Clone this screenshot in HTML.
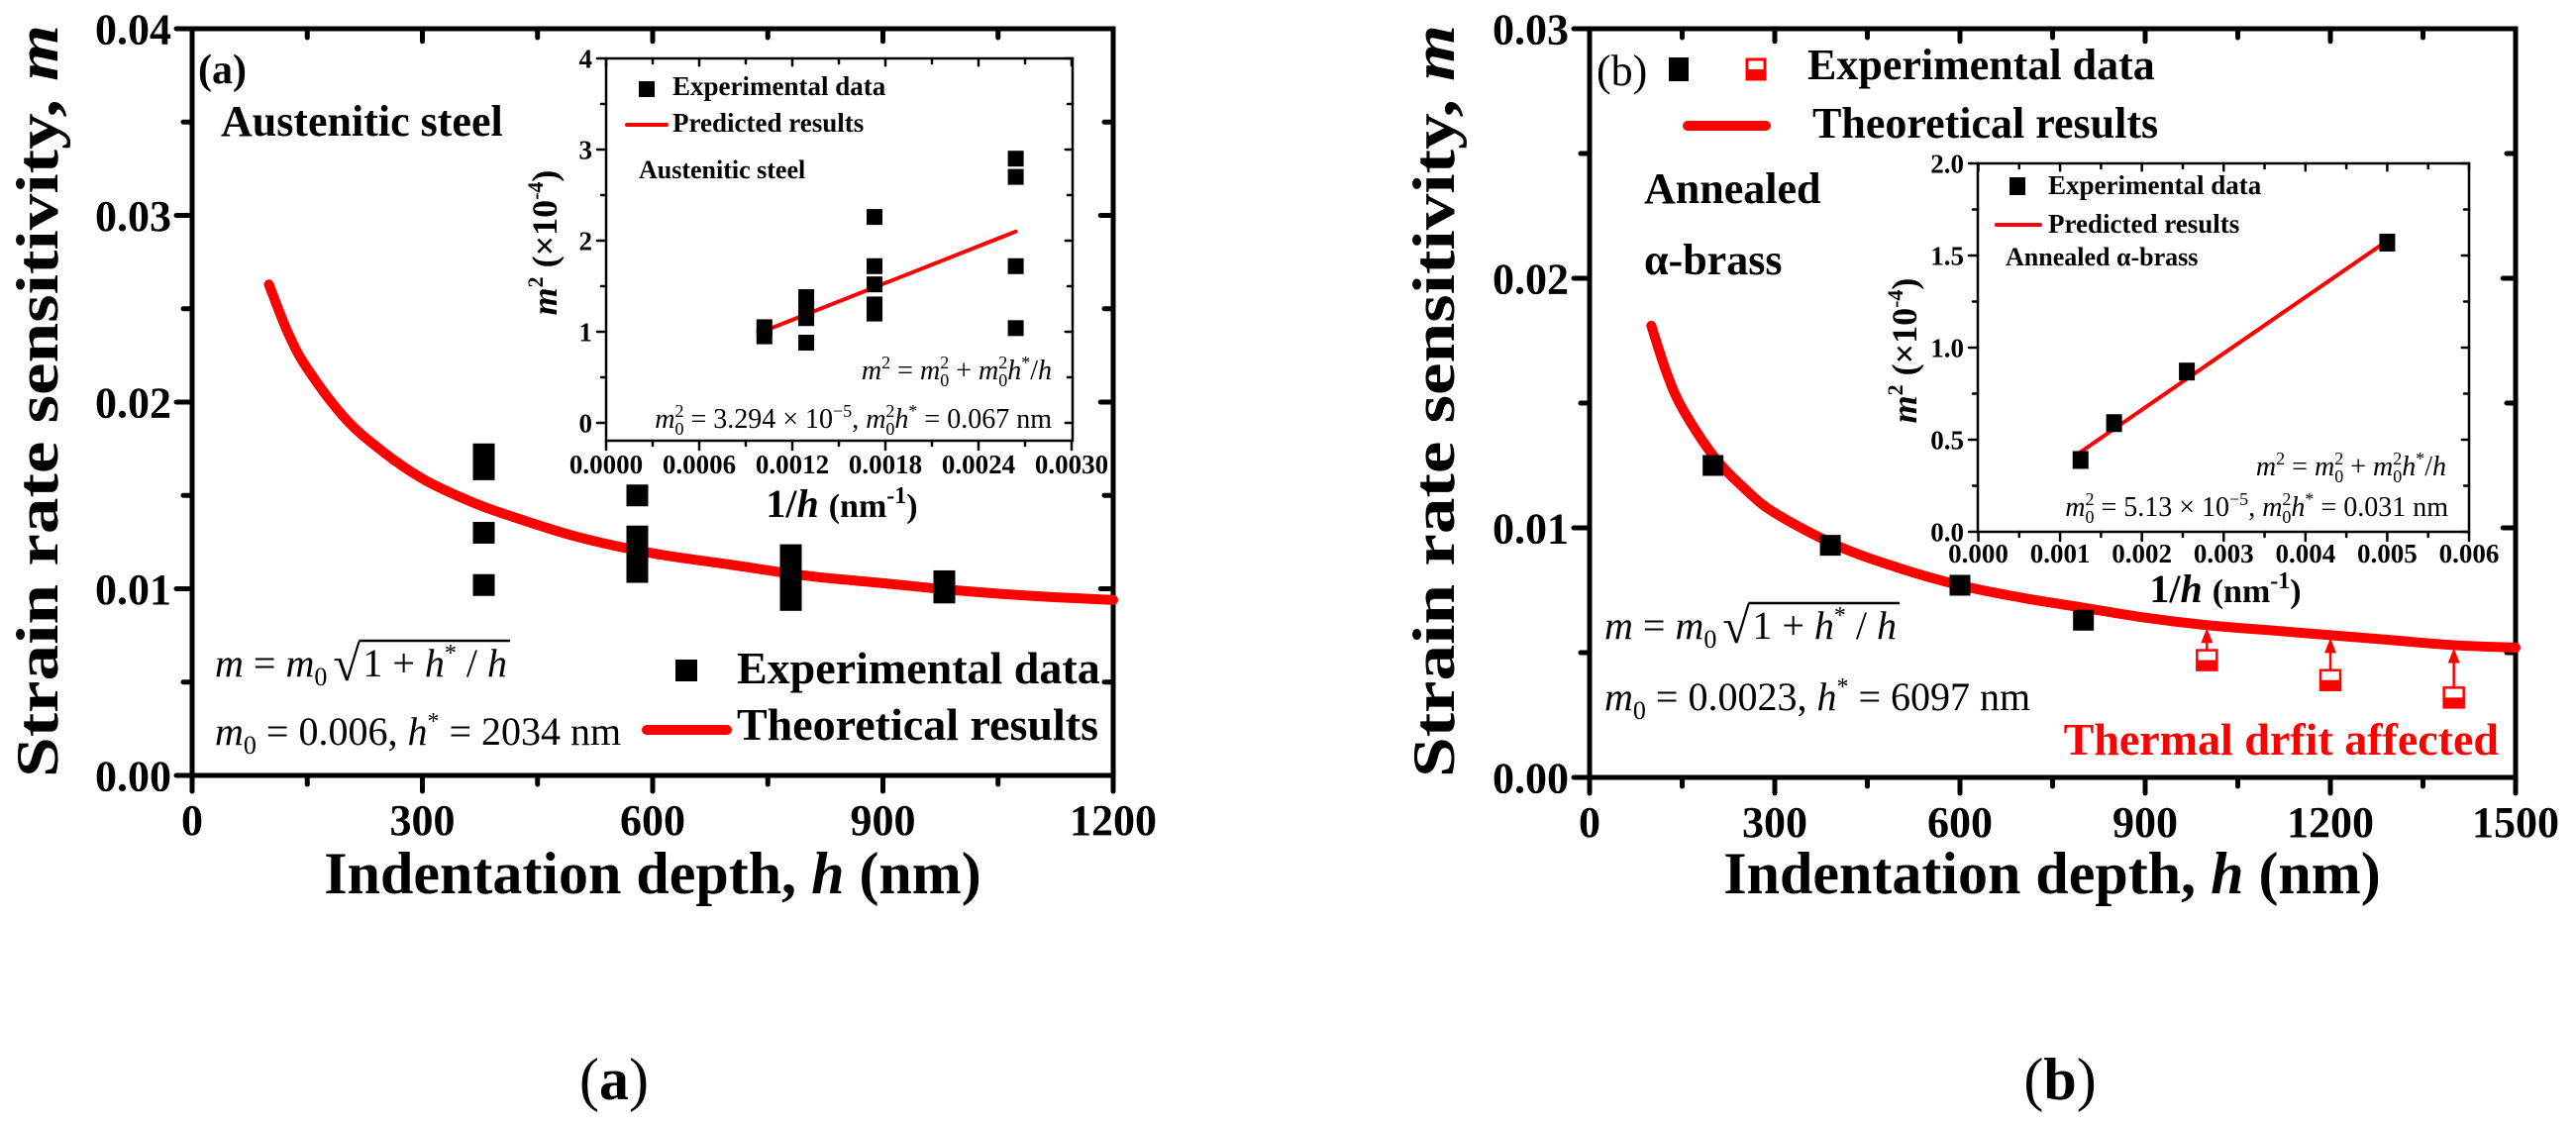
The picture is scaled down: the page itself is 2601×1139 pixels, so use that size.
<!DOCTYPE html>
<html><head><meta charset="utf-8">
<style>
html,body{margin:0;padding:0;background:#fff;}
svg, svg text{font-family:"Liberation Serif","DejaVu Serif",serif;}
svg{display:block;}
.b{font-weight:bold;}
</style></head>
<body>
<svg id="fig" width="2601" height="1139" viewBox="0 0 2601 1139" xmlns="http://www.w3.org/2000/svg" font-family="Liberation Serif, serif">
<rect x="0" y="0" width="2601" height="1139" fill="#fff"/>
<g id="layer"></g>

<!-- ===== Panel (a) static text ===== -->
<text class="b" font-size="60" transform="translate(58,405) rotate(-90)" text-anchor="middle" textLength="760" lengthAdjust="spacingAndGlyphs">Strain rate sensitivity, <tspan font-style="italic">m</tspan></text>
<text class="b" font-size="60" x="659" y="902" text-anchor="middle">Indentation depth, <tspan font-style="italic">h</tspan> (nm)</text>
<text class="b" font-size="42" x="200" y="84">(a)</text>
<text class="b" font-size="44" x="223" y="137">Austenitic steel</text>
<text font-size="40" x="217" y="752"><tspan font-style="italic">m</tspan><tspan font-size="26" dy="9">0</tspan><tspan dy="-9"> = 0.006, </tspan><tspan font-style="italic">h</tspan><tspan font-size="24" dy="-16">*</tspan><tspan dy="16"> = 2034 nm</tspan></text>
<g>
<rect x="682" y="666" width="22" height="22" fill="#000"/>
<text class="b" font-size="46" x="744" y="690">Experimental data</text>
<line x1="653" y1="737" x2="734" y2="737" stroke="#ff0000" stroke-width="10" stroke-linecap="round"/>
<text class="b" font-size="46" x="744" y="747">Theoretical results</text>
</g>
<text font-size="60" x="620" y="1110" text-anchor="middle">(<tspan class="b">a</tspan>)</text>

<!-- ===== Panel (b) static text ===== -->
<text class="b" font-size="60" transform="translate(1468,405) rotate(-90)" text-anchor="middle" textLength="760" lengthAdjust="spacingAndGlyphs">Strain rate sensitivity, <tspan font-style="italic">m</tspan></text>
<text class="b" font-size="60" x="2072" y="902" text-anchor="middle">Indentation depth, <tspan font-style="italic">h</tspan> (nm)</text>
<text font-size="44" x="1612" y="86">(b)</text>
<g>
<rect x="1685" y="58" width="20" height="24" fill="#000"/>
<rect x="1764" y="60" width="18" height="20" fill="#fff" stroke="#ff0000" stroke-width="3"/>
<rect x="1764" y="70" width="18" height="10" fill="#ff0000"/>
<text class="b" font-size="44" x="1825" y="80">Experimental data</text>
<line x1="1704" y1="127" x2="1783" y2="127" stroke="#ff0000" stroke-width="10" stroke-linecap="round"/>
<text class="b" font-size="44" x="1830" y="139">Theoretical results</text>
</g>
<text class="b" font-size="44" x="1660" y="205">Annealed</text>
<text class="b" font-size="44" x="1660" y="277">α-brass</text>
<text font-size="40" x="1620" y="717"><tspan font-style="italic">m</tspan><tspan font-size="26" dy="9">0</tspan><tspan dy="-9"> = 0.0023, </tspan><tspan font-style="italic">h</tspan><tspan font-size="24" dy="-16">*</tspan><tspan dy="16"> = 6097 nm</tspan></text>
<text class="b" font-size="46" fill="#ff0000" x="2523" y="762" text-anchor="end">Thermal drfit affected</text>
<text font-size="60" x="2080" y="1110" text-anchor="middle">(<tspan class="b">b</tspan>)</text>
<g id="eqlayer"></g>
</svg>

<script>
// ---------- Panel (a) main data ----------
const hAexp = [380, 380, 380, 380, 580, 580, 580, 580, 580, 780, 780, 780, 780, 980, 980];
const mAexp = [0.0172, 0.0164, 0.0130, 0.0102, 0.0150, 0.0128, 0.0121, 0.0114, 0.0109, 0.0118, 0.0112, 0.0105, 0.0094, 0.0104, 0.0098];
const hAcurve = [100, 125, 150, 200, 250, 300, 350, 400, 500, 600, 700, 800, 900, 1000, 1100, 1200];
const mAcurve = [0.0263, 0.0237, 0.0218, 0.0191, 0.0173, 0.0159, 0.0149, 0.0141, 0.0128, 0.0119, 0.0113, 0.0107, 0.0103, 0.0099, 0.0096, 0.0094];
const xTicksA = [0, 300, 600, 900, 1200];
const yTicksA = [0, 0.01, 0.02, 0.03, 0.04];
const yTickLabelsA = ["0.00", "0.01", "0.02", "0.03", "0.04"];

// ---------- Panel (a) inset data ----------
const invHA = [0.00102, 0.00102, 0.00129, 0.00129, 0.00129, 0.00129, 0.00173, 0.00173, 0.00173, 0.00173, 0.00173, 0.00264, 0.00264, 0.00264, 0.00264];
const m2A = [1.05, 0.95, 1.38, 1.25, 1.15, 0.88, 2.26, 1.72, 1.52, 1.30, 1.20, 2.90, 2.70, 1.72, 1.04];
const fitXA = [0.00102, 0.00264];
const fitYA = [1.01, 2.10];
const insetXTicksA = [0, 0.0006, 0.0012, 0.0018, 0.0024, 0.0030];
const insetXLabelsA = ["0.0000", "0.0006", "0.0012", "0.0018", "0.0024", "0.0030"];
const insetYTicksA = [0, 1, 2, 3, 4];

// ---------- Panel (b) main data ----------
const hB = [200, 390, 600, 800];
const mB = [0.0125, 0.0093, 0.0077, 0.0063];
const hDrift = [1000, 1200, 1400];
const mDrift = [0.0047, 0.0039, 0.0032];
const hBcurve = [100, 125, 150, 200, 250, 300, 400, 500, 600, 700, 800, 900, 1000, 1100, 1200, 1300, 1400, 1500];
const mBcurve = [0.0181, 0.0162, 0.0148, 0.0129, 0.0116, 0.0106, 0.0093, 0.0084, 0.0077, 0.0072, 0.0068, 0.0064, 0.0061, 0.0059, 0.0057, 0.0055, 0.0053, 0.0052];
const xTicksB = [0, 300, 600, 900, 1200, 1500];
const yTicksB = [0, 0.01, 0.02, 0.03];
const yTickLabelsB = ["0.00", "0.01", "0.02", "0.03"];

// ---------- Panel (b) inset data ----------
const invHB = [0.00125, 0.00166, 0.00255, 0.00500];
const m2B = [0.39, 0.59, 0.87, 1.57];
const fitXB = [0.00124, 0.00500];
const fitYB = [0.43, 1.58];
const insetXTicksB = [0, 0.001, 0.002, 0.003, 0.004, 0.005, 0.006];
const insetXLabelsB = ["0.000", "0.001", "0.002", "0.003", "0.004", "0.005", "0.006"];
const insetYTicksB = [0, 0.5, 1.0, 1.5, 2.0];
const insetYLabelsB = ["0.0", "0.5", "1.0", "1.5", "2.0"];

const NS = "http://www.w3.org/2000/svg";
const layer = document.getElementById("layer");
const eqlayer = document.getElementById("eqlayer");
function mk(tag, parent) { const e = document.createElementNS(NS, tag); (parent || layer).appendChild(e); return e; }
function lin(d0, d1, r0, r1) { return v => r0 + (v - d0) * (r1 - r0) / (d1 - d0); }

const XA = lin(0, 1200, 194, 1124), YA = lin(0, 0.04, 783, 29);
const XB = lin(0, 1500, 1605, 2540), YB = lin(0, 0.03, 785, 29);
const XIA = lin(0, 0.003, 612, 1082), YIA = lin(0, 4, 427, 59);
const XIB = lin(0, 0.006, 1997.5, 2493), YIB = lin(0, 2, 537, 165);

function smoothPath(xs, ys, X, Y) {
  const p = xs.map((x, i) => [X(x), Y(ys[i])]);
  let d = "M" + p[0][0] + "," + p[0][1];
  for (let i = 0; i < p.length - 1; i++) {
    const p0 = p[i - 1] || p[i], p1 = p[i], p2 = p[i + 1], p3 = p[i + 2] || p2;
    const c1 = [p1[0] + (p2[0] - p0[0]) / 6, p1[1] + (p2[1] - p0[1]) / 6];
    const c2 = [p2[0] - (p3[0] - p1[0]) / 6, p2[1] - (p3[1] - p1[1]) / 6];
    d += " C" + c1[0] + "," + c1[1] + " " + c2[0] + "," + c2[1] + " " + p2[0] + "," + p2[1];
  }
  return d;
}

function frame(x0, y0, x1, y1, sw, name) {
  const r = mk("rect");
  r.setAttribute("x", x0); r.setAttribute("y", y0);
  r.setAttribute("width", x1 - x0); r.setAttribute("height", y1 - y0);
  r.setAttribute("fill", "#fff"); r.setAttribute("stroke", "#000"); r.setAttribute("stroke-width", sw);
  
  
}

function tick(x1, y1, x2, y2, sw) {
  const l = mk("line");
  l.setAttribute("x1", x1); l.setAttribute("y1", y1); l.setAttribute("x2", x2); l.setAttribute("y2", y2);
  l.setAttribute("stroke", "#000"); l.setAttribute("stroke-width", sw); l.setAttribute("stroke-linecap", "round");
  
  
}

function label(txt, x, y, size, anchor, name) {
  const t = mk("text");
  t.textContent = txt;
  t.setAttribute("x", x); t.setAttribute("y", y);
  t.setAttribute("font-size", size); t.setAttribute("font-weight", "bold");
  t.setAttribute("text-anchor", anchor);
  
  
  return t;
}

function axes(o) {
  frame(o.x0, o.y0, o.x1, o.y1, o.sw, o.name + "-frame");
  const xs = o.xt, ys = o.yt;
  for (let i = 0; i < xs.length; i++) {
    const px = o.X(xs[i]);
    tick(px, o.y1, px, o.y1 + o.maj, o.sw);
    tick(px, o.y0, px, o.y0 + o.maj * 0.8, o.sw);
    label(o.xl[i], px, o.y1 + o.xlOff, o.fs, "middle", o.name + "-x-tick-label");
    if (i < xs.length - 1) {
      const mx = o.X((xs[i] + xs[i + 1]) / 2);
      tick(mx, o.y1, mx, o.y1 + o.min, o.sw);
      tick(mx, o.y0, mx, o.y0 + o.min, o.sw);
    }
  }
  for (let i = 0; i < ys.length; i++) {
    const py = o.Y(ys[i]);
    tick(o.x0, py, o.x0 - o.maj, py, o.sw);
    tick(o.x1, py, o.x1 - o.maj * 0.8, py, o.sw);
    label(o.yl[i], o.x0 - o.maj - 5, py + o.fs * 0.35, o.fs, "end", o.name + "-y-tick-label");
    if (i < ys.length - 1) {
      const my = o.Y((ys[i] + ys[i + 1]) / 2);
      tick(o.x0, my, o.x0 - o.min, my, o.sw);
      tick(o.x1, my, o.x1 - o.min, my, o.sw);
    }
  }
}

function squares(xs, ys, X, Y, w, h, name) {
  for (let i = 0; i < xs.length; i++) {
    const r = mk("rect");
    r.setAttribute("x", X(xs[i]) - w / 2); r.setAttribute("y", Y(ys[i]) - h / 2);
    r.setAttribute("width", w); r.setAttribute("height", h); r.setAttribute("fill", "#000");
    
    
  }
}

function curve(xs, ys, X, Y, sw, name) {
  const p = mk("path");
  p.setAttribute("d", smoothPath(xs, ys, X, Y));
  p.setAttribute("fill", "none"); p.setAttribute("stroke", "#ff0000"); p.setAttribute("stroke-width", sw);
  p.setAttribute("stroke-linecap", "round");
  
  
}

// ===== Panel (a) =====
axes({x0: 194, y0: 29, x1: 1124, y1: 783, sw: 5, maj: 16, min: 9, X: XA, Y: YA,
  xt: xTicksA, xl: xTicksA.map(String), yt: yTicksA, yl: yTickLabelsA, fs: 44, xlOff: 60, name: "main-a"});
curve(hAcurve, mAcurve, XA, YA, 10, "theoretical-curve-a");
squares(hAexp, mAexp, XA, YA, 22, 22, "experimental-point-a");

axes({x0: 612, y0: 59, x1: 1083, y1: 445, sw: 2.5, maj: 9, min: 5, X: XIA, Y: YIA,
  xt: insetXTicksA, xl: insetXLabelsA, yt: insetYTicksA, yl: insetYTicksA.map(String), fs: 27, xlOff: 33, name: "inset-a"});
curve(fitXA, fitYA, XIA, YIA, 4, "predicted-line-a");
squares(invHA, m2A, XIA, YIA, 16, 16, "inset-experimental-point-a");

// ===== Panel (b) =====
axes({x0: 1605, y0: 29, x1: 2540, y1: 785, sw: 5, maj: 16, min: 9, X: XB, Y: YB,
  xt: xTicksB, xl: xTicksB.map(String), yt: yTicksB, yl: yTickLabelsB, fs: 44, xlOff: 60, name: "main-b"});
curve(hBcurve, mBcurve, XB, YB, 10, "theoretical-curve-b");
squares(hB, mB, XB, YB, 21, 21, "experimental-point-b");
for (let i = 0; i < hDrift.length; i++) {
  const cx = XB(hDrift[i]), cy = YB(mDrift[i]);
  const ct = YB(mBcurve[hBcurve.indexOf(hDrift[i])]);
  const g = mk("g");
  
  
  const ln = mk("line", g);
  ln.setAttribute("x1", cx); ln.setAttribute("y1", cy - 10); ln.setAttribute("x2", cx); ln.setAttribute("y2", ct + 16);
  ln.setAttribute("stroke", "#ff0000"); ln.setAttribute("stroke-width", 2.5);
  const ah = mk("polygon", g);
  ah.setAttribute("points", (cx - 6) + "," + (ct + 18) + " " + (cx + 6) + "," + (ct + 18) + " " + cx + "," + (ct + 3));
  ah.setAttribute("fill", "#ff0000");
  const r = mk("rect", g);
  r.setAttribute("x", cx - 10); r.setAttribute("y", cy - 10); r.setAttribute("width", 20); r.setAttribute("height", 20);
  r.setAttribute("fill", "#fff"); r.setAttribute("stroke", "#ff0000"); r.setAttribute("stroke-width", 2.5);
  const f = mk("rect", g);
  f.setAttribute("x", cx - 10); f.setAttribute("y", cy); f.setAttribute("width", 20); f.setAttribute("height", 10);
  f.setAttribute("fill", "#ff0000");
}

axes({x0: 1997, y0: 165, x1: 2493, y1: 537, sw: 2.5, maj: 9, min: 5, X: XIB, Y: YIB,
  xt: insetXTicksB, xl: insetXLabelsB, yt: insetYTicksB, yl: insetYLabelsB, fs: 27, xlOff: 31, name: "inset-b"});
curve(fitXB, fitYB, XIB, YIB, 4, "predicted-line-b");
squares(invHB, m2B, XIB, YIB, 16, 18, "inset-experimental-point-b");

function rich(html, name) {
  const g = mk("g");
  g.innerHTML = html;
  
  
}
rich('<rect x="645" y="82" width="16" height="16" fill="#000"/><text x="679" y="96" font-size="27" font-weight="bold">Experimental data</text>' +
  '<line x1="633" y1="126" x2="673" y2="126" stroke="#ff0000" stroke-width="4" stroke-linecap="round"/><text x="679" y="133" font-size="27" font-weight="bold">Predicted results</text>' +
  '<text x="645" y="180" font-size="26" font-weight="bold">Austenitic steel</text>', "inset-legend-a");
rich('<text x="1062" y="383" font-size="28" text-anchor="end" font-style="italic">m<tspan font-size="18" dy="-11" font-style="normal">2</tspan><tspan dy="11" font-style="normal"> = </tspan>m<tspan font-size="18" dy="-11" font-style="normal">2</tspan><tspan font-size="18" dx="-9" dy="18" font-style="normal">0</tspan><tspan dy="-7" font-style="normal"> + </tspan>m<tspan font-size="18" dy="-11" font-style="normal">2</tspan><tspan font-size="18" dx="-9" dy="18" font-style="normal">0</tspan><tspan dy="-7">h</tspan><tspan font-size="18" dy="-11" font-style="normal">*</tspan><tspan dy="11" font-style="normal">/</tspan>h</text>' +
  '<text x="1062" y="432" font-size="28" text-anchor="end"><tspan font-style="italic">m</tspan><tspan font-size="18" dy="-11">2</tspan><tspan font-size="18" dx="-9" dy="18">0</tspan><tspan dy="-7"> = 3.294 × 10</tspan><tspan font-size="18" dy="-11">−5</tspan><tspan dy="11">, </tspan><tspan font-style="italic">m</tspan><tspan font-size="18" dy="-11">2</tspan><tspan font-size="18" dx="-9" dy="18">0</tspan><tspan dy="-7" font-style="italic">h</tspan><tspan font-size="18" dy="-11">*</tspan><tspan dy="11"> = 0.067 nm</tspan></text>', "inset-equations-a");
rich('<text x="850" y="522" font-size="40" font-weight="bold" text-anchor="middle">1/<tspan font-style="italic">h</tspan> <tspan font-size="34">(nm</tspan><tspan font-size="24" dy="-14">-1</tspan><tspan font-size="34" dy="14">)</tspan></text>', "inset-x-axis-title-a");
rich('<text transform="translate(562,245) rotate(-90)" font-size="36" font-weight="bold" text-anchor="middle"><tspan font-style="italic">m</tspan><tspan font-size="22" dy="-14">2</tspan><tspan dy="14"> (×10</tspan><tspan font-size="22" dy="-14">-4</tspan><tspan dy="14">)</tspan></text>', "inset-y-axis-title-a");

rich('<rect x="2029" y="179" width="16" height="18" fill="#000"/><text x="2068" y="196" font-size="27" font-weight="bold">Experimental data</text>' +
  '<line x1="2016" y1="227" x2="2060" y2="227" stroke="#ff0000" stroke-width="4" stroke-linecap="round"/><text x="2068" y="235" font-size="27" font-weight="bold">Predicted results</text>' +
  '<text x="2025" y="268" font-size="26" font-weight="bold">Annealed α-brass</text>', "inset-legend-b");
rich('<text x="2470" y="480" font-size="28" text-anchor="end" font-style="italic">m<tspan font-size="18" dy="-11" font-style="normal">2</tspan><tspan dy="11" font-style="normal"> = </tspan>m<tspan font-size="18" dy="-11" font-style="normal">2</tspan><tspan font-size="18" dx="-9" dy="18" font-style="normal">0</tspan><tspan dy="-7" font-style="normal"> + </tspan>m<tspan font-size="18" dy="-11" font-style="normal">2</tspan><tspan font-size="18" dx="-9" dy="18" font-style="normal">0</tspan><tspan dy="-7">h</tspan><tspan font-size="18" dy="-11" font-style="normal">*</tspan><tspan dy="11" font-style="normal">/</tspan>h</text>' +
  '<text x="2472" y="521" font-size="28" text-anchor="end"><tspan font-style="italic">m</tspan><tspan font-size="18" dy="-11">2</tspan><tspan font-size="18" dx="-9" dy="18">0</tspan><tspan dy="-7"> = 5.13 × 10</tspan><tspan font-size="18" dy="-11">−5</tspan><tspan dy="11">, </tspan><tspan font-style="italic">m</tspan><tspan font-size="18" dy="-11">2</tspan><tspan font-size="18" dx="-9" dy="18">0</tspan><tspan dy="-7" font-style="italic">h</tspan><tspan font-size="18" dy="-11">*</tspan><tspan dy="11"> = 0.031 nm</tspan></text>', "inset-equations-b");
rich('<text x="2247" y="608" font-size="40" font-weight="bold" text-anchor="middle">1/<tspan font-style="italic">h</tspan> <tspan font-size="34">(nm</tspan><tspan font-size="24" dy="-14">-1</tspan><tspan font-size="34" dy="14">)</tspan></text>', "inset-x-axis-title-b");
rich('<text transform="translate(1935,354) rotate(-90)" font-size="36" font-weight="bold" text-anchor="middle"><tspan font-style="italic">m</tspan><tspan font-size="22" dy="-14">2</tspan><tspan dy="14"> (×10</tspan><tspan font-size="22" dy="-14">-4</tspan><tspan dy="14">)</tspan></text>', "inset-y-axis-title-b");

// model equations with measured radical
function equation(x, y, name) {
  const g = mk("g", eqlayer);
  
  
  const t1 = mk("text", g);
  t1.setAttribute("x", x); t1.setAttribute("y", y); t1.setAttribute("font-size", 40);
  t1.innerHTML = '<tspan font-style="italic">m</tspan> = <tspan font-style="italic">m</tspan><tspan font-size="26" dy="9">0</tspan>';
  const b1 = t1.getBBox();
  const rx = b1.x + b1.width + 6;
  const t2 = mk("text", g);
  t2.setAttribute("x", rx); t2.setAttribute("y", y + 4); t2.setAttribute("font-size", 50);
  t2.textContent = "√";
  const b2 = t2.getBBox();
  const t3 = mk("text", g);
  const sx = b2.x + b2.width;
  t3.setAttribute("x", sx + 2); t3.setAttribute("y", y); t3.setAttribute("font-size", 40);
  t3.innerHTML = '1 + <tspan font-style="italic">h</tspan><tspan font-size="24" dy="-16">*</tspan><tspan dy="16"> / </tspan><tspan font-style="italic">h</tspan>';
  const b3 = t3.getBBox();
  const ol = mk("line", g);
  ol.setAttribute("x1", sx - 2); ol.setAttribute("x2", b3.x + b3.width + 3);
  ol.setAttribute("y1", b2.y + 5); ol.setAttribute("y2", b2.y + 5);
  ol.setAttribute("stroke", "#000"); ol.setAttribute("stroke-width", 2.5);
}
equation(217, 683, "equation-a");
equation(1620, 645, "equation-b");
</script>
</body></html>
